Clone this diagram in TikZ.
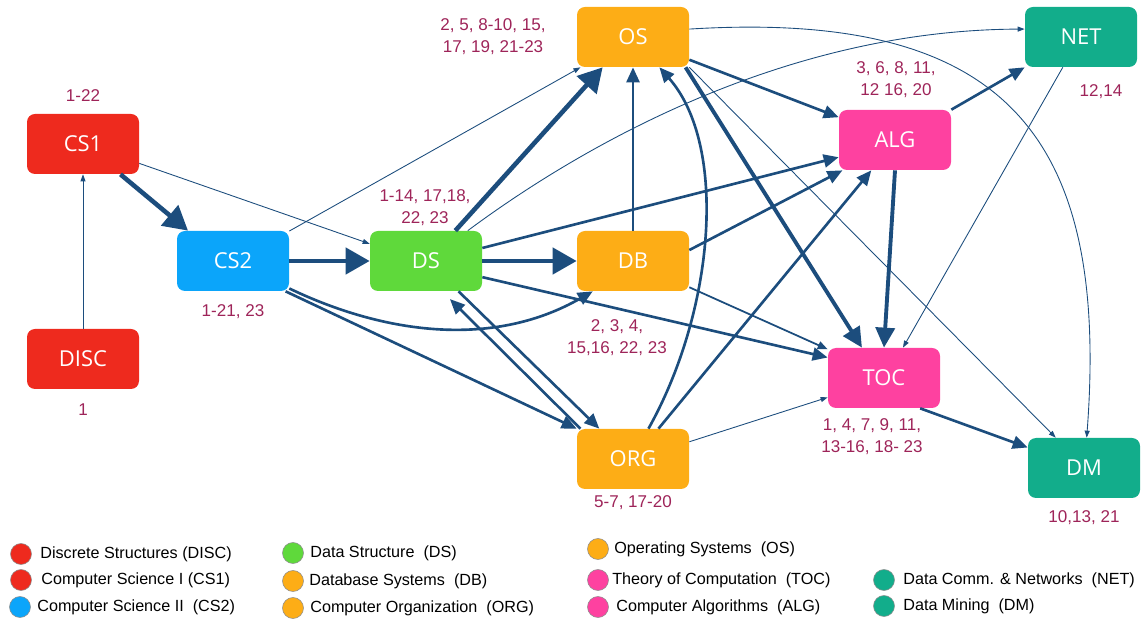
\documentclass[tikz,border=0pt]{standalone}
\usepackage{fontspec}
\setmainfont{Liberation Sans}
\newfontfamily\boxfont{Open Sans}
\usetikzlibrary{arrows.meta}
\definecolor{CGRed}{HTML}{EE2A1E}
\definecolor{CGBlue}{HTML}{0BA5FA}
\definecolor{CGGreen}{HTML}{5FD93B}
\definecolor{CGOrange}{HTML}{FDAD16}
\definecolor{CGPink}{HTML}{FE41A0}
\definecolor{CGTeal}{HTML}{12AD8B}
\definecolor{CGEdge}{HTML}{1C4D7D}
\definecolor{CGNum}{HTML}{9E2459}
\tikzset{
  course/.style={rectangle,rounded corners=0.16cm,minimum width=2.24cm,minimum height=1.20cm,inner sep=0pt,text=white,font=\boxfont\fontsize{12.5}{14}\selectfont},
  numlbl/.style={text=CGNum,align=center,font=\fontsize{9.7}{12.5}\selectfont},
  bigarr/.style={CGEdge,line width=2.6pt,-{Triangle[length=0.48cm,width=0.52cm]}},
  hevarr/.style={CGEdge,line width=2.2pt,-{Triangle[length=0.40cm,width=0.38cm]}},
  midarr/.style={CGEdge,line width=1.5pt,-{Triangle[length=0.30cm,width=0.26cm]}},
  lgtarr/.style={CGEdge,line width=1.0pt,-{Triangle[length=0.20cm,width=0.16cm]}},
  thinarr/.style={CGEdge,line width=0.5pt,-{Triangle[length=0.14cm,width=0.10cm]}},
  legdot/.style={circle,minimum size=0.42cm,inner sep=0pt,draw=black!45,line width=0.3pt},
  legtxt/.style={anchor=west,inner sep=0pt,font=\fontsize{9.2}{11}\selectfont},
}
\begin{document}
\begin{tikzpicture}[x=1cm,y=1cm]
\path[use as bounding box] (0,0) rectangle (22.92,12.44);
% courses
\node[course,fill=CGRed] (cs1) at (1.66,9.56) {CS1};
\node[course,fill=CGRed] (disc) at (1.66,5.26) {DISC};
\node[course,fill=CGBlue] (cs2) at (4.66,7.22) {CS2};
\node[course,fill=CGGreen] (ds) at (8.52,7.22) {DS};
\node[course,fill=CGOrange] (os) at (12.66,11.70) {OS};
\node[course,fill=CGOrange] (db) at (12.66,7.22) {DB};
\node[course,fill=CGOrange] (org) at (12.66,3.26) {ORG};
\node[course,fill=CGPink] (alg) at (17.90,9.64) {ALG};
\node[course,fill=CGPink] (toc) at (17.68,4.88) {TOC};
\node[course,fill=CGTeal] (net) at (21.62,11.70) {NET};
\node[course,fill=CGTeal] (dm) at (21.68,3.08) {DM};
% numbers
\node[numlbl] (cs1num) at (1.66,10.52) {1-22};
\node[numlbl] (discnum) at (1.66,4.24) {1};
\node[numlbl] (cs2num) at (4.66,6.20) {1-21, 23};
\node[numlbl] (dsnum) at (8.50,8.28) {1-14, 17,18,\\22, 23};
\node[numlbl] (osnum) at (9.86,11.70) {2, 5, 8-10, 15,\\17, 19, 21-23};
\node[numlbl] (dbnum) at (12.34,5.68) {2, 3, 4,\\15,16, 22, 23};
\node[numlbl] (orgnum) at (12.66,2.38) {5-7, 17-20};
\node[numlbl] (algnum) at (17.92,10.84) {3, 6, 8, 11,\\12 16, 20};
\node[numlbl] (netnum) at (22.02,10.60) {12,14};
\node[numlbl] (tocnum) at (17.44,3.70) {1, 4, 7, 9, 11,\\13-16, 18- 23};
\node[numlbl] (dmnum) at (21.68,2.08) {10,13, 21};
% strong links
\draw[bigarr] (cs1.-39) -- (cs2.146);
\draw[bigarr] (cs2.east) -- (ds.west);
\draw[bigarr] (ds.east) -- (db.west);
\draw[bigarr] (ds.46) -- (os.225);
\draw[hevarr] (os.-30) -- (toc.126);
\draw[hevarr] (alg.south) -- (toc.north);
% medium links
\draw[midarr] (cs2.-30) -- (org.north west);
\draw[midarr] (cs2.-26) .. controls (7.60,5.80) and (9.80,5.44) .. (db.-143);
\draw[midarr] (ds.-43) -- (org.138);
\draw[midarr,shorten >=0.22cm] (org.150) -- (ds.-62);
\draw[midarr] (ds.-16) -- (toc.160);
\draw[midarr] (ds.13) -- (alg.197);
\draw[midarr] (db.north) -- (os.south);
\draw[midarr] (db.11) -- (alg.210);
\draw[midarr] (org.63) .. controls (14.30,6.24) and (14.56,9.54) .. (os.-49);
\draw[midarr] (org.50) -- (alg.232);
\draw[midarr] (os.-22) -- (alg.158);
\draw[midarr] (alg.north east) -- (net.south west);
\draw[midarr] (toc.-40) -- (dm.160);
\draw[lgtarr] (db.-25) -- (toc.153);
% weak links
\draw[thinarr] (disc.north) -- (cs1.south);
\draw[thinarr] (cs1.-19) -- (ds.163);
\draw[thinarr] (cs2.28) -- (os.210);
\draw[thinarr] (ds.36) .. controls (11.80,9.64) and (15.80,11.84) .. (net.172);
\draw[thinarr] (os.8) .. controls (20.00,12.24) and (22.20,9.84) .. (dm.85);
\draw[thinarr] (os.south east) -- (dm.133);
\draw[thinarr] (net.239) -- (toc.58);
\draw[thinarr] (org.17) -- (toc.199);
% legend
\node[legdot,fill=CGRed] (dotdisc) at (0.42,1.36) {};
\node[legtxt] (txtdisc) at (0.80,1.36) {Discrete Structures (DISC)};
\node[legdot,fill=CGRed] (dotcs1) at (0.42,0.84) {};
\node[legtxt] (txtcs1) at (0.82,0.84) {Computer Science I (CS1)};
\node[legdot,fill=CGBlue] (dotcs2) at (0.40,0.30) {};
\node[legtxt] (txtcs2) at (0.74,0.30) {Computer Science II\ \ (CS2)};
\node[legdot,fill=CGGreen] (dotds) at (5.86,1.38) {};
\node[legtxt] (txtds) at (6.20,1.38) {Data Structure\ \ (DS)};
\node[legdot,fill=CGOrange] (dotdb) at (5.86,0.82) {};
\node[legtxt] (txtdb) at (6.18,0.82) {Database Systems\ \ (DB)};
\node[legdot,fill=CGOrange] (dotorg) at (5.86,0.28) {};
\node[legtxt] (txtorg) at (6.20,0.28) {Computer Organization\ \ (ORG)};
\node[legdot,fill=CGOrange] (dotos) at (11.96,1.46) {};
\node[legtxt] (txtos) at (12.28,1.46) {Operating Systems\ \ (OS)};
\node[legdot,fill=CGPink] (dottoc) at (11.96,0.84) {};
\node[legtxt] (txttoc) at (12.24,0.84) {Theory of Computation\ \ (TOC)};
\node[legdot,fill=CGPink] (dotalg) at (11.96,0.30) {};
\node[legtxt] (txtalg) at (12.32,0.30) {Computer Algorithms\ \ (ALG)};
\node[legdot,fill=CGTeal] (dotnet) at (17.68,0.84) {};
\node[legtxt] (txtnet) at (18.06,0.84) {Data Comm. \& Networks\ \ (NET)};
\node[legdot,fill=CGTeal] (dotdm) at (17.68,0.32) {};
\node[legtxt] (txtdm) at (18.06,0.32) {Data Mining\ \ (DM)};
\end{tikzpicture}
\end{document}
